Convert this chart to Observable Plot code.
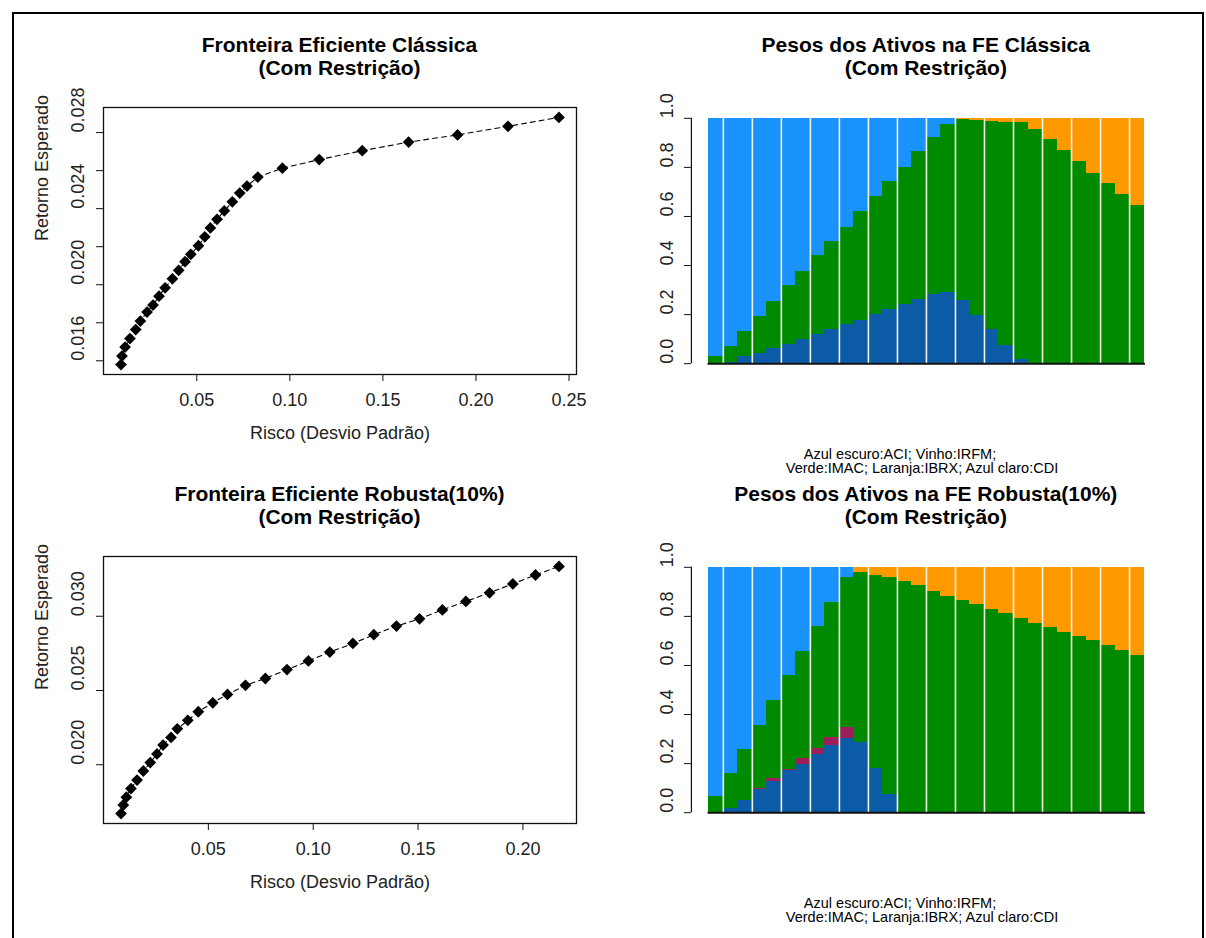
<!DOCTYPE html>
<html>
<head>
<meta charset="utf-8">
<script src="https://cdn.jsdelivr.net/npm/d3@7"></script>
<script src="https://cdn.jsdelivr.net/npm/@observablehq/plot@0.6"></script>
<style>
  html, body { margin: 0; padding: 0; background: #fff; }
  #root { position: relative; width: 1206px; height: 938px; overflow: hidden; background: #fff;
          font-family: "Liberation Sans", Arial, sans-serif; color: #000; }
  #border { position: absolute; left: 12px; top: 12px; width: 1192px; height: 960px; box-sizing: border-box;
            border: 2px solid #000; }
  .panel { position: absolute; }
  .title { position: absolute; width: 600px; text-align: center; font-weight: bold; font-size: 21px;
           line-height: 23px; white-space: pre; }
  .cap { position: absolute; width: 500px; text-align: center; font-size: 14.5px; line-height: 14px; white-space: pre; }
</style>
</head>
<body>
<div id="root"><div id="border"></div></div>
<script>
// ---------------- data ----------------
// Fronteira eficiente clássica (30 carteiras)
const riscoClassica = [0.0093,0.0098,0.0115,0.0141,0.0172,0.0197,0.0233,0.0265,0.0297,0.0330,
  0.0369,0.0403,0.0437,0.0468,0.0509,0.0543,0.0573,0.0609,0.0648,0.0691,
  0.0731,0.0770,0.0828,0.0960,0.1158,0.1389,0.1638,0.1901,0.2172,0.2446];
const retornoClassica = [0.01580,0.01625,0.01672,0.01717,0.01764,0.01809,0.01856,0.01893,0.01940,0.01984,
  0.02031,0.02076,0.02121,0.02160,0.02205,0.02252,0.02299,0.02344,0.02389,0.02436,
  0.02482,0.02519,0.02566,0.02613,0.02658,0.02705,0.02750,0.02788,0.02833,0.02880];
// Fronteira eficiente robusta (10%)
const riscoRobusta = [0.00835,0.00945,0.0109,0.0131,0.0160,0.0190,0.0223,0.0255,0.0284,0.0322,
  0.0352,0.0402,0.0452,0.0521,0.0591,0.0677,0.0772,0.0875,0.0977,0.1079,
  0.1189,0.1289,0.1397,0.1507,0.1616,0.1728,0.1841,0.1952,0.2060,0.2172];
const retornoRobusta = [0.01671,0.01729,0.01782,0.01840,0.01897,0.01958,0.02015,0.02073,0.02133,0.02184,
  0.02242,0.02299,0.02357,0.02417,0.02474,0.02535,0.02581,0.02641,0.02699,0.02759,
  0.02817,0.02876,0.02934,0.02983,0.03043,0.03100,0.03158,0.03218,0.03278,0.03336];

// Pesos na FE clássica
const pesoClaACI  = [0,0.003,0.029,0.041,0.061,0.080,0.100,0.119,0.141,0.161,0.177,0.199,0.220,0.242,0.262,
  0.281,0.291,0.258,0.197,0.139,0.076,0.019,0,0,0,0,0,0,0,0];
const pesoClaIRFM = [0,0.003,0,0,0,0,0,0,0,0,0,0,0,0,0,0,0,0,0,0,0,0,0,0,0,0,0,0,0,0];
const pesoClaIMAC = [0.029,0.065,0.101,0.153,0.192,0.237,0.276,0.320,0.356,0.396,0.443,0.484,0.521,0.557,0.602,
  0.641,0.683,0.736,0.794,0.848,0.907,0.962,0.955,0.913,0.868,0.825,0.777,0.734,0.688,0.646];
const pesoClaIBRX = [0,0,0,0,0,0,0,0,0,0,0,0,0,0,0,0,0,0.006,0.009,0.013,0.017,0.019,0.045,0.087,0.132,
  0.175,0.223,0.266,0.312,0.354];
const pesoClaCDI  = [0.971,0.929,0.870,0.806,0.747,0.683,0.624,0.561,0.503,0.443,0.380,0.317,0.259,0.201,0.136,
  0.078,0.026,0,0,0,0,0,0,0,0,0,0,0,0,0];

// Pesos na FE robusta (10%)
const pesoRobACI  = [0,0.018,0.051,0.095,0.129,0.170,0.196,0.238,0.273,0.301,0.288,0.179,0.073,0,0,
  0,0,0,0,0,0,0,0,0,0,0,0,0,0,0];
const pesoRobIRFM = [0,0,0,0.004,0.009,0.006,0.026,0.022,0.032,0.046,0,0,0,0,0,0,0,0,0,0,0,0,0,0,0,0,0,0,0,0];
const pesoRobIMAC = [0.064,0.142,0.206,0.258,0.318,0.383,0.433,0.498,0.553,0.611,0.690,0.789,0.885,0.942,0.925,
  0.901,0.883,0.865,0.849,0.830,0.813,0.790,0.772,0.754,0.736,0.718,0.701,0.683,0.662,0.642];
const pesoRobIBRX = [0,0,0,0,0,0,0,0,0,0,0.022,0.032,0.042,0.058,0.075,0.099,0.117,0.135,0.151,0.170,
  0.187,0.210,0.228,0.246,0.264,0.282,0.299,0.317,0.338,0.358];
const pesoRobCDI  = [0.936,0.840,0.743,0.643,0.544,0.441,0.345,0.242,0.142,0.042,0,0,0,0,0,0,0,0,0,0,0,0,0,0,0,0,0,0,0,0];

const ativos = ["ACI", "IRFM", "IMAC", "IBRX", "CDI"];

const xTicksCla = [0.05, 0.10, 0.15, 0.20, 0.25];
const yTicksCla = [0.016, 0.018, 0.020, 0.022, 0.024, 0.026, 0.028];
const yLabelsCla = [0.016, 0.020, 0.024, 0.028];
const xTicksRob = [0.05, 0.10, 0.15, 0.20];
const yTicksRob = [0.020, 0.025, 0.030];
const yLabelsRob = [0.020, 0.025, 0.030];
const wTicks = [0, 0.2, 0.4, 0.6, 0.8, 1.0];

const titulos = [
  "Fronteira Eficiente Clássica\n(Com Restrição)",
  "Pesos dos Ativos na FE Clássica\n(Com Restrição)",
  "Fronteira Eficiente Robusta(10%)\n(Com Restrição)",
  "Pesos dos Ativos na FE Robusta(10%)\n(Com Restrição)"
];
const legendaL1 = "Azul escuro:ACI; Vinho:IRFM;";
const legendaL2 = "Verde:IMAC; Laranja:IBRX; Azul claro:CDI";
const rotuloX = "Risco (Desvio Padrão)";
const rotuloY = "Retorno Esperado";

// ---------------- styles ----------------
const cores = ["#0b5ba6", "#9c1f5c", "#008a00", "#ff9900", "#1a92fb"];
const FONT = "'Liberation Sans', Arial, sans-serif";
const pad4 = ([a, b]) => [a - (b - a) * 0.04, b + (b - a) * 0.04];
const root = document.getElementById("root");

function place(el, left, top) {
  el.classList.add("panel");
  el.style.left = left + "px";
  el.style.top = top + "px";
  root.appendChild(el);
}

function fronteira(risco, retorno, xTicks, yTicks, yLabels, yDigits) {
  const data = risco.map((r, i) => ({risco: r, retorno: retorno[i]}));
  return Plot.plot({
    width: 566, height: 380,
    marginLeft: 83, marginRight: 10, marginTop: 12, marginBottom: 101,
    style: {background: "transparent", fontFamily: FONT, fontSize: "18px", overflow: "visible", color: "#000"},
    x: {domain: pad4(d3.extent(risco))},
    y: {domain: pad4(d3.extent(retorno))},
    marks: [
      Plot.frame({stroke: "#111", strokeWidth: 1.3}),
      Plot.axisX({ticks: xTicks, tickSize: 7, tickFormat: () => "", label: null, stroke: "#111"}),
      Plot.axisY({ticks: yTicks, tickSize: 7, tickFormat: () => "", label: null, stroke: "#111"}),
      Plot.text(xTicks, {x: d => d, text: d => d.toFixed(2), frameAnchor: "bottom", dy: 31, fontSize: 18, fill: "#222"}),
      Plot.text(yLabels, {y: d => d, text: d => d.toFixed(yDigits), frameAnchor: "left", dx: -25, rotate: -90, fontSize: 18, fill: "#222"}),
      Plot.text([rotuloX], {text: d => d, frameAnchor: "bottom", dy: 64, fontSize: 18, fill: "#222"}),
      Plot.text([rotuloY], {text: d => d, frameAnchor: "left", dx: -61, rotate: -90, fontSize: 18, fill: "#222"}),
      Plot.line(data, {x: "risco", y: "retorno", stroke: "#000", strokeWidth: 1.1, strokeDasharray: "5,4"}),
      Plot.dot(data, {x: "risco", y: "retorno", symbol: "diamond2", r: 5.3, fill: "#000", stroke: "none"})
    ]
  });
}

function pesos(aci, irfm, imac, ibrx, cdi) {
  const series = [aci, irfm, imac, ibrx, cdi];
  const table = [];
  aci.forEach((_, i) => ativos.forEach((a, k) => table.push({i, i2: i + 1, ativo: a, peso: series[k][i]})));
  const n = aci.length;
  const seps = d3.range(1, n, 2);
  const xDom = pad4([0, n]);
  return Plot.plot({
    width: 556, height: 380,
    marginLeft: 70.9, marginRight: 15, marginTop: 13, marginBottom: 102,
    style: {background: "transparent", fontFamily: FONT, fontSize: "18px", overflow: "visible", color: "#000"},
    x: {domain: xDom, axis: null},
    y: {domain: pad4([0, 1])},
    color: {domain: ativos, range: cores},
    marks: [
      Plot.rectY(table, {x1: "i", x2: "i2", y: "peso", fill: "ativo", order: ativos, shapeRendering: "crispEdges"}),
      Plot.ruleX(seps, {y1: 0, y2: 1, stroke: "#f3f3e4", strokeWidth: 1.6}),
      Plot.ruleY([0], {x1: -0.05, x2: n + 0.1, stroke: "#111", strokeWidth: 2}),
      Plot.ruleX([xDom[0]], {y1: 0, y2: 1, stroke: "#111", strokeWidth: 1.2}),
      Plot.axisY({ticks: wTicks, tickSize: 7, tickFormat: () => "", label: null, stroke: "#111"}),
      Plot.text(wTicks, {y: d => d, text: d => d.toFixed(1), frameAnchor: "left", dx: -24, rotate: -90, fontSize: 18, fill: "#222"})
    ]
  });
}

const rowOffset = 449;
place(fronteira(riscoClassica, retornoClassica, xTicksCla, yTicksCla, yLabelsCla, 3), 20, 95);
place(fronteira(riscoRobusta, retornoRobusta, xTicksRob, yTicksRob, yLabelsRob, 3), 20, 95 + rowOffset);
place(pesos(pesoClaACI, pesoClaIRFM, pesoClaIMAC, pesoClaIBRX, pesoClaCDI), 620, 95);
place(pesos(pesoRobACI, pesoRobIRFM, pesoRobIMAC, pesoRobIBRX, pesoRobCDI), 620, 95 + rowOffset);

// titles
const titleCenters = [[339.5, 33], [925.8, 33], [339.5, 33 + rowOffset], [925.8, 33 + rowOffset]];
titulos.forEach((t, k) => {
  const d = document.createElement("div");
  d.className = "title";
  d.textContent = t;
  d.style.left = (titleCenters[k][0] - 300) + "px";
  d.style.top = titleCenters[k][1] + "px";
  root.appendChild(d);
});

// captions
[0, rowOffset].forEach(off => {
  const l1 = document.createElement("div");
  l1.className = "cap";
  l1.textContent = legendaL1;
  l1.style.left = (900 - 250) + "px";
  l1.style.top = (447 + off) + "px";
  root.appendChild(l1);
  const l2 = document.createElement("div");
  l2.className = "cap";
  l2.textContent = legendaL2;
  l2.style.left = (922 - 250) + "px";
  l2.style.top = (461 + off) + "px";
  root.appendChild(l2);
});
</script>
</body>
</html>
